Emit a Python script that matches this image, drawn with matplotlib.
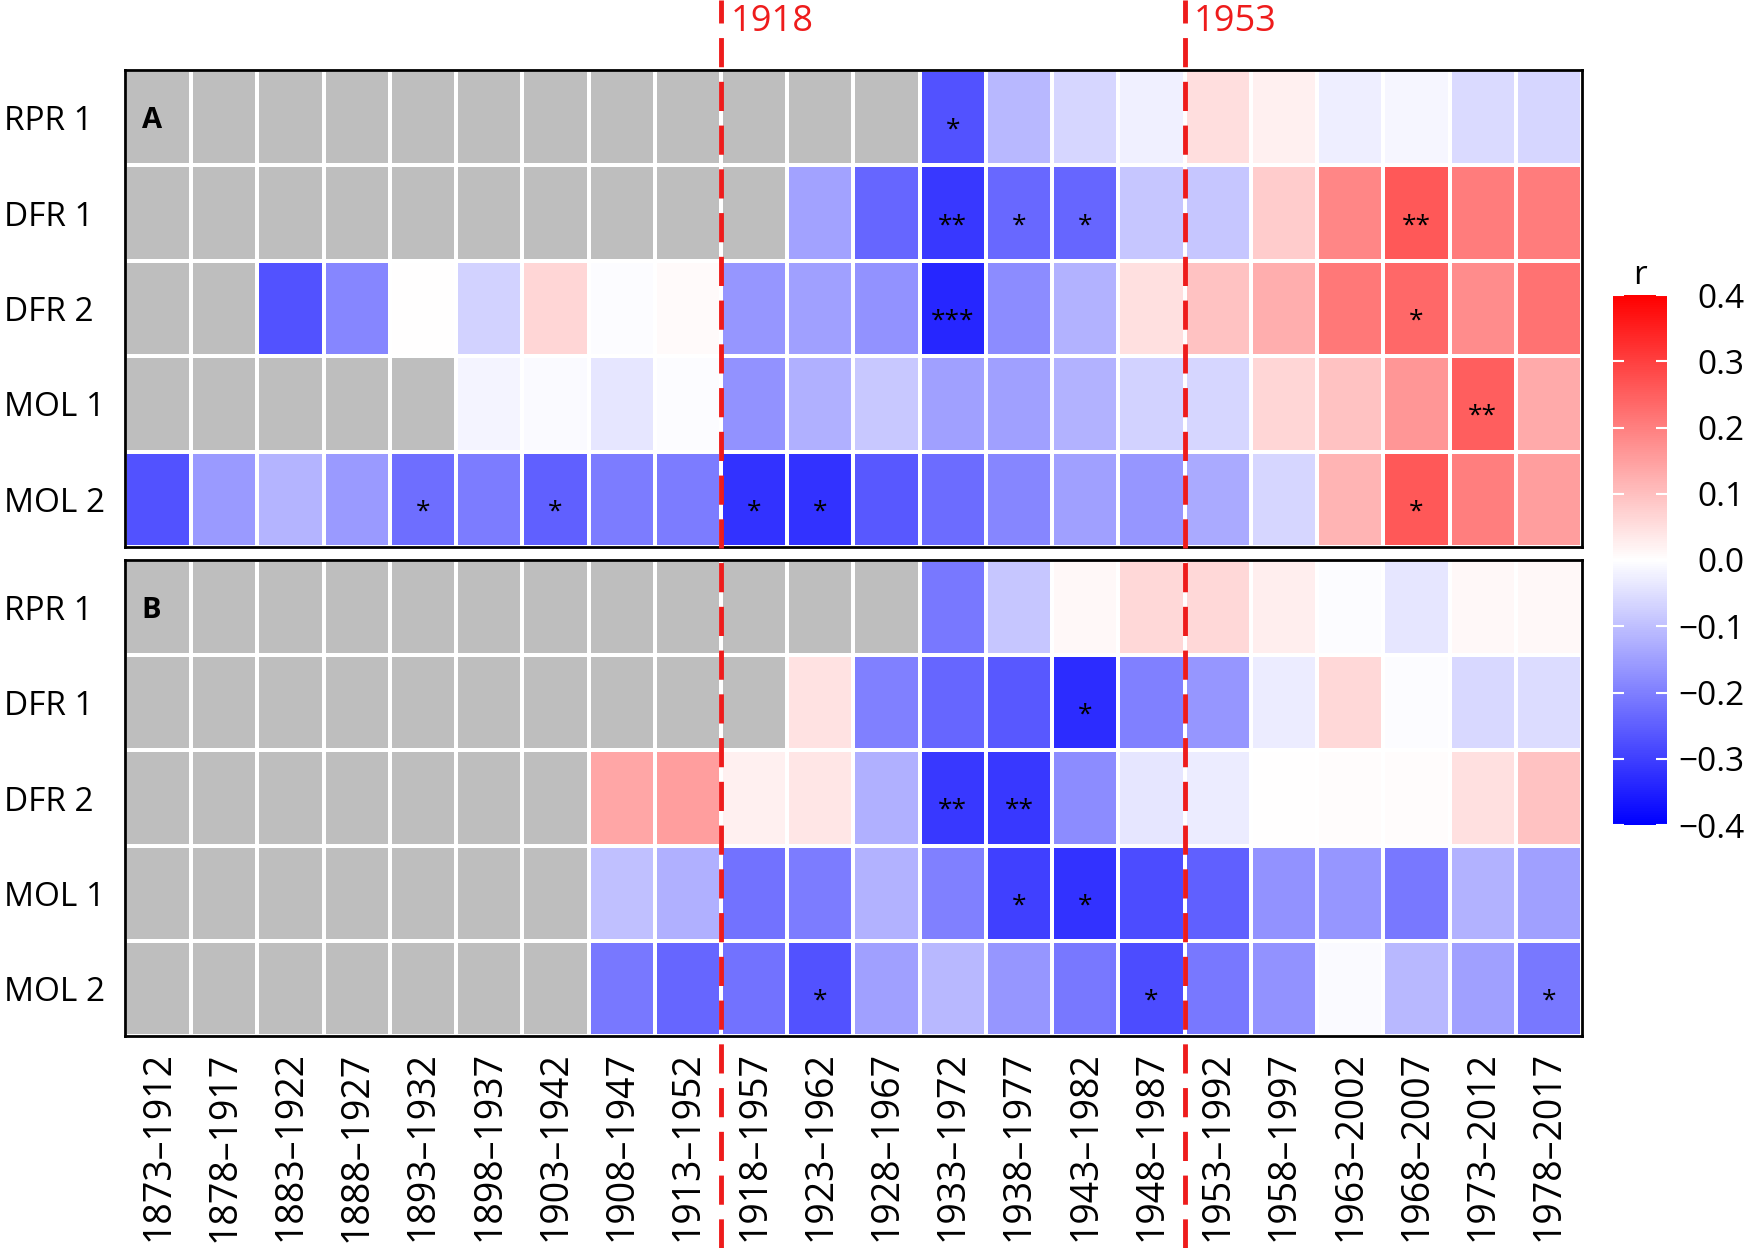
import numpy as np
import matplotlib
matplotlib.use("Agg")
import matplotlib.pyplot as plt
from matplotlib.lines import Line2D
from matplotlib.transforms import blended_transform_factory

plt.rcParams['font.family'] = ['Open Sans', 'DejaVu Sans']

nan = np.nan

periods = ["1873\u20131912", "1878\u20131917", "1883\u20131922", "1888\u20131927", "1893\u20131932",
           "1898\u20131937", "1903\u20131942", "1908\u20131947", "1913\u20131952", "1918\u20131957",
           "1923\u20131962", "1928\u20131967", "1933\u20131972", "1938\u20131977", "1943\u20131982",
           "1948\u20131987", "1953\u20131992", "1958\u20131997", "1963\u20132002", "1968\u20132007",
           "1973\u20132012", "1978\u20132017"]
sites = ["RPR 1", "DFR 1", "DFR 2", "MOL 1", "MOL 2"]

# panel A correlations (rows = sites, cols = periods), nan = not available
r_a = [
    [nan, nan, nan, nan, nan, nan, nan, nan, nan, nan, nan, nan,
     -0.27, -0.11, -0.063, -0.024, 0.052, 0.024, -0.027, -0.014, -0.058, -0.063],
    [nan, nan, nan, nan, nan, nan, nan, nan, nan, nan, -0.145, -0.24,
     -0.31, -0.235, -0.24, -0.09, -0.09, 0.08, 0.19, 0.26, 0.204, 0.204],
    [nan, nan, -0.27, -0.19, 0.003, -0.07, 0.063, -0.005, 0.008, -0.165, -0.15, -0.17,
     -0.34, -0.18, -0.12, 0.047, 0.094, 0.125, 0.21, 0.235, 0.18, 0.22],
    [nan, nan, nan, nan, nan, -0.016, -0.008, -0.04, -0.005, -0.17, -0.125, -0.086,
     -0.15, -0.15, -0.12, -0.07, -0.063, 0.063, 0.094, 0.165, 0.25, 0.133],
    [-0.27, -0.157, -0.118, -0.157, -0.227, -0.204, -0.25, -0.204, -0.204, -0.32, -0.32, -0.26,
     -0.23, -0.19, -0.15, -0.165, -0.133, -0.063, 0.118, 0.26, 0.2, 0.15],
]
sig_a = [
    ["", "", "", "", "", "", "", "", "", "", "", "", "*", "", "", "", "", "", "", "", "", ""],
    ["", "", "", "", "", "", "", "", "", "", "", "", "**", "*", "*", "", "", "", "", "**", "", ""],
    ["", "", "", "", "", "", "", "", "", "", "", "", "***", "", "", "", "", "", "", "*", "", ""],
    ["", "", "", "", "", "", "", "", "", "", "", "", "", "", "", "", "", "", "", "", "**", ""],
    ["", "", "", "", "*", "", "*", "", "", "*", "*", "", "", "", "", "", "", "", "", "*", "", ""],
]

# panel B correlations
r_b = [
    [nan, nan, nan, nan, nan, nan, nan, nan, nan, nan, nan, nan,
     -0.21, -0.09, 0.01, 0.06, 0.06, 0.025, -0.004, -0.04, 0.01, 0.01],
    [nan, nan, nan, nan, nan, nan, nan, nan, nan, nan, 0.045, -0.2,
     -0.24, -0.26, -0.33, -0.2, -0.165, -0.03, 0.06, -0.005, -0.06, -0.055],
    [nan, nan, nan, nan, nan, nan, nan, 0.14, 0.15, 0.023, 0.04, -0.125,
     -0.31, -0.31, -0.18, -0.04, -0.03, 0.003, 0.005, 0.005, 0.047, 0.094],
    [nan, nan, nan, nan, nan, nan, nan, -0.097, -0.122, -0.22, -0.205, -0.12,
     -0.2, -0.3, -0.32, -0.28, -0.25, -0.17, -0.165, -0.21, -0.12, -0.15],
    [nan, nan, nan, nan, nan, nan, nan, -0.21, -0.24, -0.22, -0.27, -0.15,
     -0.11, -0.165, -0.21, -0.28, -0.21, -0.17, -0.008, -0.11, -0.15, -0.21],
]
sig_b = [
    ["", "", "", "", "", "", "", "", "", "", "", "", "", "", "", "", "", "", "", "", "", ""],
    ["", "", "", "", "", "", "", "", "", "", "", "", "", "", "*", "", "", "", "", "", "", ""],
    ["", "", "", "", "", "", "", "", "", "", "", "", "**", "**", "", "", "", "", "", "", "", ""],
    ["", "", "", "", "", "", "", "", "", "", "", "", "", "*", "*", "", "", "", "", "", "", ""],
    ["", "", "", "", "", "", "", "", "", "", "*", "", "", "", "", "*", "", "", "", "", "", "*"],
]

breaks = [9, 16]          # column index where the break line sits
break_labels = ["1918", "1953"]
cbar_ticks = [-0.4, -0.3, -0.2, -0.1, 0.0, 0.1, 0.2, 0.3, 0.4]

cmap = plt.get_cmap('bwr').copy()
cmap.set_bad('#BEBEBE')

W, H = 1750, 1248
fig = plt.figure(figsize=(W / 100, H / 100), dpi=100)
axA = fig.add_axes([125 / W, 1 - 547 / H, 1457 / W, 477 / H])
axB = fig.add_axes([125 / W, 1 - 1036 / H, 1457 / W, 476 / H])
cax = fig.add_axes([1613 / W, 1 - 825 / H, 54 / W, 530 / H])

for ax, vals, sig, tag in [(axA, r_a, sig_a, "A"), (axB, r_b, sig_b, "B")]:
    data = np.ma.masked_invalid(np.array(vals, dtype=float))
    mesh = ax.pcolormesh(data, cmap=cmap, vmin=-0.4, vmax=0.4,
                         edgecolors='white', linewidth=1.5)
    ax.set_xlim(0, len(periods))
    ax.set_ylim(len(sites), 0)
    for i in range(len(sites)):
        for j in range(len(periods)):
            if sig[i][j]:
                ax.text(j + 0.5, i + 0.7, sig[i][j], ha='center', va='baseline',
                        fontsize=19, color='black')
    ax.text(0.25, 0.61, tag, ha='left', va='baseline', fontsize=21,
            fontweight='bold')
    ax.set_yticks(np.arange(len(sites)) + 0.5)
    ax.set_yticklabels(sites, fontsize=24, ha='left')
    # labels are left aligned near the figure edge
    ax.tick_params(axis='y', length=0, pad=87)
    for s in ax.spines.values():
        s.set_linewidth(2)
        s.set_color('black')

axA.set_xticks([])
axB.set_xticks(np.arange(len(periods)) + 0.5)
axB.set_xticklabels(periods, rotation=90, fontsize=27)
axB.tick_params(axis='x', length=0, pad=11)

# colour bar
cb = fig.colorbar(mesh, cax=cax, ticks=cbar_ticks)
cb.outline.set_visible(False)
cax.tick_params(axis='y', length=0, pad=56, labelsize=24)
for lab in cax.get_yticklabels():
    lab.set_horizontalalignment('right')
cax.hlines(cbar_ticks, 0, 0.2, colors='white', linewidth=1.5)
cax.hlines(cbar_ticks, 0.8, 1, colors='white', linewidth=1.5)
cax.set_xlim(0, 1)
cax.set_title("r", fontsize=24, pad=8)

# break lines spanning the whole figure
trans = blended_transform_factory(axB.transData, fig.transFigure)
for b, lab in zip(breaks, break_labels):
    fig.add_artist(Line2D([b, b], [0, 1], transform=trans, color='#EE1C1C',
                          linewidth=3.5, linestyle=(0, (6, 3)), zorder=10))
    fig.text(b + 0.14, 1 - 22 / H, lab, transform=trans, color='#EE1C1C',
             fontsize=26, ha='left', va='center')

fig.savefig("out.png", dpi=100)
